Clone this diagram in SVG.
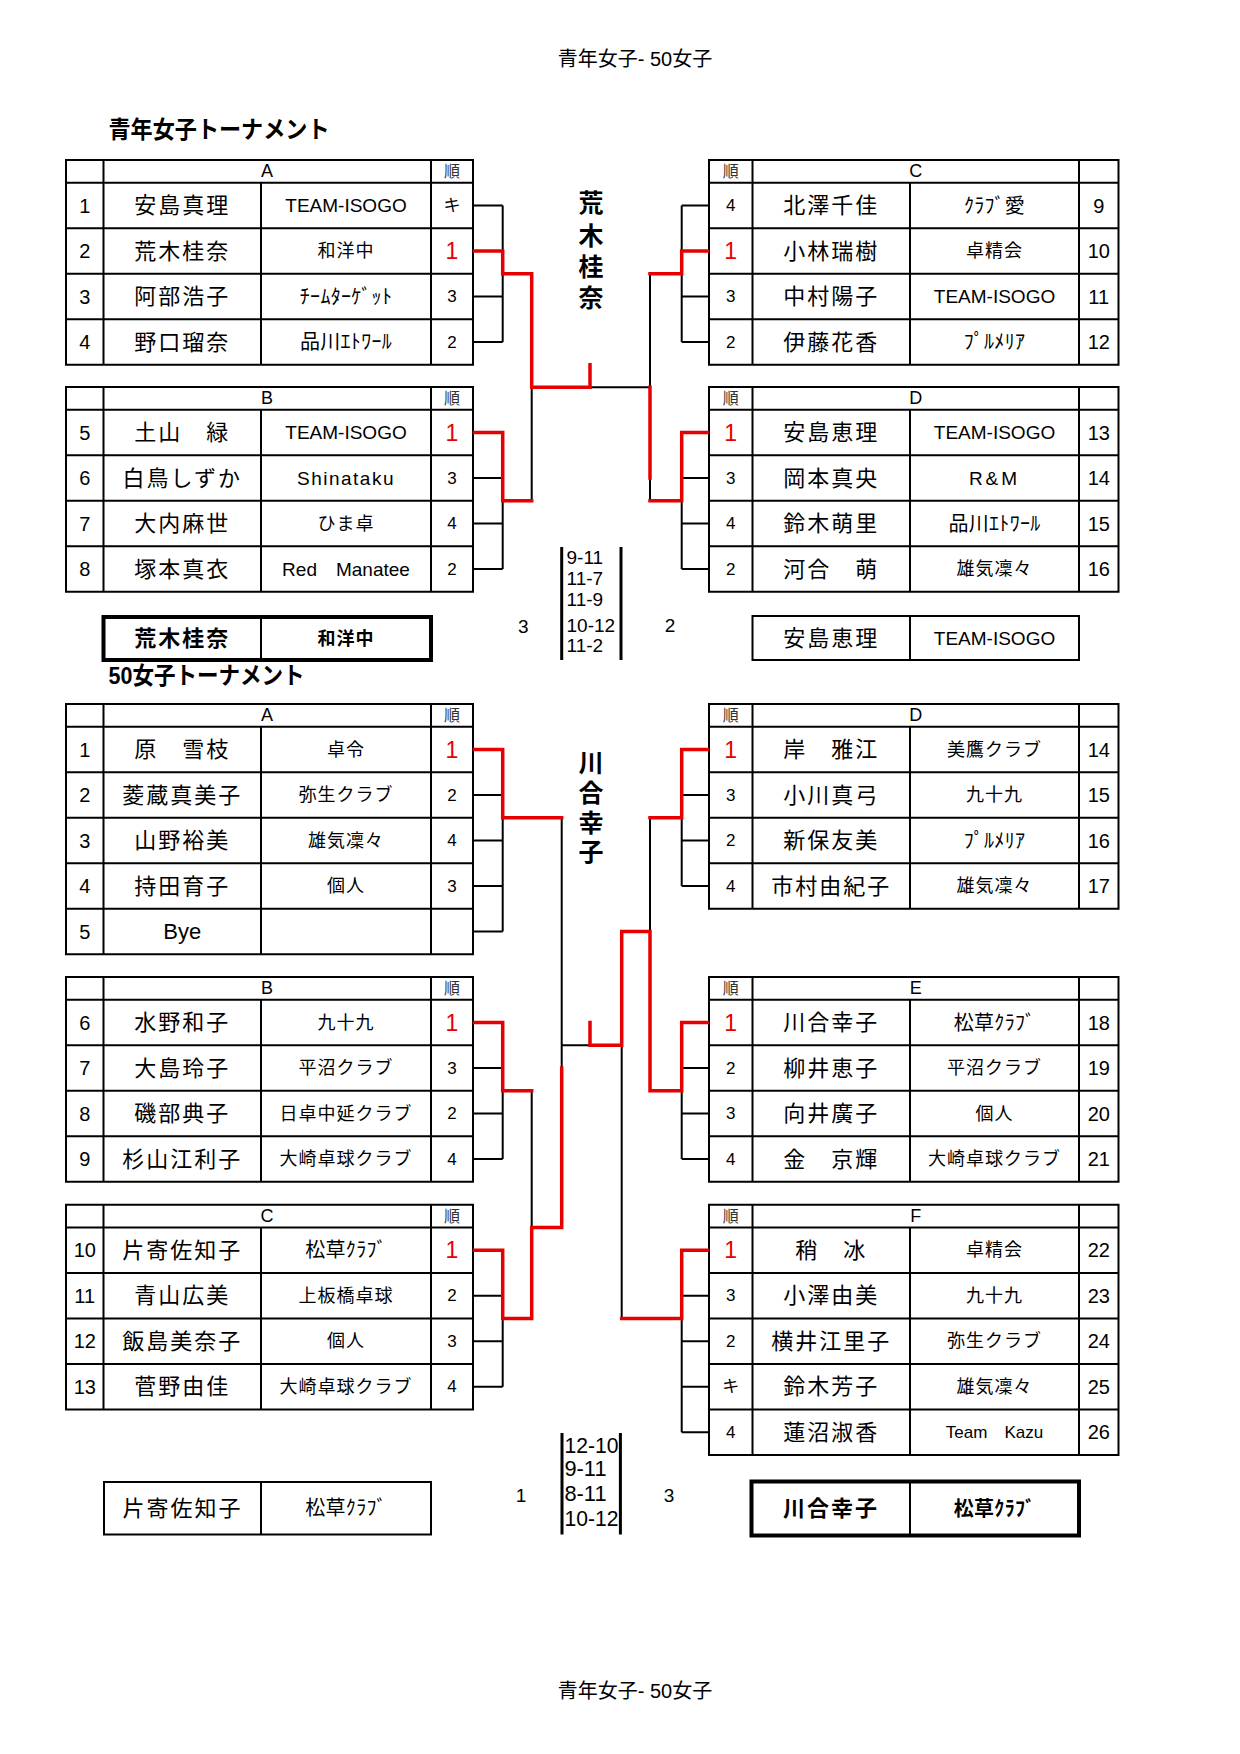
<svg xmlns="http://www.w3.org/2000/svg" width="1240" height="1754" viewBox="0 0 1240 1754">
<style>
text{font-family:"Liberation Sans","Noto Sans CJK JP",sans-serif;dominant-baseline:central;fill:#000}
.g{fill:none;stroke:#000;stroke-width:2}
.gb{fill:none;stroke:#000;stroke-width:4}
.k{fill:none;stroke:#000;stroke-width:2}
.r{fill:none;stroke:#e60000;stroke-width:3.5;stroke-linejoin:miter;stroke-linecap:square}
.sl{fill:none;stroke:#000;stroke-width:3}
.no{font-size:20px;text-anchor:middle}
.nm{font-size:22px;letter-spacing:2px;text-anchor:middle}
.cl{font-size:18px;letter-spacing:1px;text-anchor:middle}
.hk{font-size:20px;letter-spacing:0.3px;text-anchor:middle}
.la{font-size:19px;text-anchor:middle}
.rk{font-size:17px;text-anchor:middle}
.w{font-size:23px;fill:#e60000;text-anchor:middle}
.hd{font-size:18px;text-anchor:middle}
.jn{font-size:16px;fill:#333;text-anchor:middle}
.ti{font-size:24px;font-weight:bold}
.vt{font-size:25px;font-weight:bold;text-anchor:middle}
.sc{font-size:19px}
.sb{font-size:22px}
.pg{font-size:20px;text-anchor:middle}
.b{font-weight:bold}
</style>

<g id="page-header"><text class="pg" x="635" y="59">青年女子- 50女子</text></g>
<g id="title-youth"><text class="ti" x="108.5" y="129" textLength="221" lengthAdjust="spacingAndGlyphs">青年女子トーナメント</text></g>
<g id="title-50"><text class="ti" x="108.5" y="675" textLength="196" lengthAdjust="spacingAndGlyphs">50女子トーナメント</text></g>

<!-- ===== Youth A ===== -->
<g id="youth-A">
<rect class="g" x="66" y="160" width="407" height="204.75"/>
<path class="g" d="M66,182.75H473M66,228.25H473M66,273.75H473M66,319.25H473M103.5,160V364.75M431,160V364.75M261,182.75V364.75"/>
<text class="hd" x="267" y="171.4">A</text><text class="jn" x="452" y="171.4">順</text>
<text class="no" x="84.75" y="205.5">1</text><text class="nm" x="182.25" y="205.5">安島真理</text><text class="la" x="346" y="205.5">TEAM-ISOGO</text><text class="rk" x="452" y="205.5">キ</text>
<text class="no" x="84.75" y="251">2</text><text class="nm" x="182.25" y="251">荒木桂奈</text><text class="cl" x="346" y="251">和洋中</text><text class="w" x="452" y="251">1</text>
<text class="no" x="84.75" y="296.5">3</text><text class="nm" x="182.25" y="296.5">阿部浩子</text><text class="hk" x="346" y="296.5">ﾁｰﾑﾀｰｹﾞｯﾄ</text><text class="rk" x="452" y="296.5">3</text>
<text class="no" x="84.75" y="342">4</text><text class="nm" x="182.25" y="342">野口瑠奈</text><text class="hk" x="346" y="342">品川ｴﾄﾜｰﾙ</text><text class="rk" x="452" y="342">2</text>
</g>

<!-- ===== Youth B ===== -->
<g id="youth-B">
<rect class="g" x="66" y="387" width="407" height="204.75"/>
<path class="g" d="M66,409.75H473M66,455.25H473M66,500.75H473M66,546.25H473M103.5,387V591.75M431,387V591.75M261,409.75V591.75"/>
<text class="hd" x="267" y="398.4">B</text><text class="jn" x="452" y="398.4">順</text>
<text class="no" x="84.75" y="432.5">5</text><text class="nm" x="182.25" y="432.5">土山　緑</text><text class="la" x="346" y="432.5">TEAM-ISOGO</text><text class="w" x="452" y="432.5">1</text>
<text class="no" x="84.75" y="478">6</text><text class="nm" x="182.25" y="478">白鳥しずか</text><text class="la" x="346" y="478" letter-spacing="1.5">Shinataku</text><text class="rk" x="452" y="478">3</text>
<text class="no" x="84.75" y="523.5">7</text><text class="nm" x="182.25" y="523.5">大内麻世</text><text class="cl" x="346" y="523.5">ひま卓</text><text class="rk" x="452" y="523.5">4</text>
<text class="no" x="84.75" y="569">8</text><text class="nm" x="182.25" y="569">塚本真衣</text><text class="la" x="346" y="569" font-size="18">Red　Manatee</text><text class="rk" x="452" y="569">2</text>
</g>

<!-- ===== Youth C ===== -->
<g id="youth-C">
<rect class="g" x="709" y="160" width="409.5" height="204.75"/>
<path class="g" d="M709,182.75H1118.5M709,228.25H1118.5M709,273.75H1118.5M709,319.25H1118.5M752.5,160V364.75M1079,160V364.75M910,182.75V364.75"/>
<text class="jn" x="730.75" y="171.4">順</text><text class="hd" x="915.75" y="171.4">C</text>
<text class="rk" x="730.75" y="205.5">4</text><text class="nm" x="831.25" y="205.5">北澤千佳</text><text class="hk" x="994.5" y="205.5">ｸﾗﾌﾞ愛</text><text class="no" x="1098.75" y="205.5">9</text>
<text class="w" x="730.75" y="251">1</text><text class="nm" x="831.25" y="251">小林瑞樹</text><text class="cl" x="994.5" y="251">卓精会</text><text class="no" x="1098.75" y="251">10</text>
<text class="rk" x="730.75" y="296.5">3</text><text class="nm" x="831.25" y="296.5">中村陽子</text><text class="la" x="994.5" y="296.5">TEAM-ISOGO</text><text class="no" x="1098.75" y="296.5">11</text>
<text class="rk" x="730.75" y="342">2</text><text class="nm" x="831.25" y="342">伊藤花香</text><text class="hk" x="994.5" y="342">ﾌﾟﾙﾒﾘｱ</text><text class="no" x="1098.75" y="342">12</text>
</g>

<!-- ===== Youth D ===== -->
<g id="youth-D">
<rect class="g" x="709" y="387" width="409.5" height="204.75"/>
<path class="g" d="M709,409.75H1118.5M709,455.25H1118.5M709,500.75H1118.5M709,546.25H1118.5M752.5,387V591.75M1079,387V591.75M910,409.75V591.75"/>
<text class="jn" x="730.75" y="398.4">順</text><text class="hd" x="915.75" y="398.4">D</text>
<text class="w" x="730.75" y="432.5">1</text><text class="nm" x="831.25" y="432.5">安島恵理</text><text class="la" x="994.5" y="432.5">TEAM-ISOGO</text><text class="no" x="1098.75" y="432.5">13</text>
<text class="rk" x="730.75" y="478">3</text><text class="nm" x="831.25" y="478">岡本真央</text><text class="la" x="994.5" y="478" letter-spacing="3">R&amp;M</text><text class="no" x="1098.75" y="478">14</text>
<text class="rk" x="730.75" y="523.5">4</text><text class="nm" x="831.25" y="523.5">鈴木萌里</text><text class="hk" x="994.5" y="523.5">品川ｴﾄﾜｰﾙ</text><text class="no" x="1098.75" y="523.5">15</text>
<text class="rk" x="730.75" y="569">2</text><text class="nm" x="831.25" y="569">河合　萌</text><text class="cl" x="994.5" y="569">雄気凜々</text><text class="no" x="1098.75" y="569">16</text>
</g>

<!-- ===== 50 A ===== -->
<g id="fifty-A">
<rect class="g" x="66" y="704" width="407" height="250.25"/>
<path class="g" d="M66,726.75H473M66,772.25H473M66,817.75H473M66,863.25H473M66,908.75H473M103.5,704V954.25M431,704V954.25M261,726.75V954.25"/>
<text class="hd" x="267" y="715.4">A</text><text class="jn" x="452" y="715.4">順</text>
<text class="no" x="84.75" y="749.5">1</text><text class="nm" x="182.25" y="749.5">原　雪枝</text><text class="cl" x="346" y="749.5">卓令</text><text class="w" x="452" y="749.5">1</text>
<text class="no" x="84.75" y="795">2</text><text class="nm" x="182.25" y="795">菱蔵真美子</text><text class="cl" x="346" y="795">弥生クラブ</text><text class="rk" x="452" y="795">2</text>
<text class="no" x="84.75" y="840.5">3</text><text class="nm" x="182.25" y="840.5">山野裕美</text><text class="cl" x="346" y="840.5">雄気凜々</text><text class="rk" x="452" y="840.5">4</text>
<text class="no" x="84.75" y="886">4</text><text class="nm" x="182.25" y="886">持田育子</text><text class="cl" x="346" y="886">個人</text><text class="rk" x="452" y="886">3</text>
<text class="no" x="84.75" y="931.5">5</text><text x="182.25" y="931.5" font-size="22" text-anchor="middle">Bye</text>
</g>

<!-- ===== 50 B ===== -->
<g id="fifty-B">
<rect class="g" x="66" y="977" width="407" height="204.75"/>
<path class="g" d="M66,999.75H473M66,1045.25H473M66,1090.75H473M66,1136.25H473M103.5,977V1181.75M431,977V1181.75M261,999.75V1181.75"/>
<text class="hd" x="267" y="988.4">B</text><text class="jn" x="452" y="988.4">順</text>
<text class="no" x="84.75" y="1022.5">6</text><text class="nm" x="182.25" y="1022.5">水野和子</text><text class="cl" x="346" y="1022.5">九十九</text><text class="w" x="452" y="1022.5">1</text>
<text class="no" x="84.75" y="1068">7</text><text class="nm" x="182.25" y="1068">大島玲子</text><text class="cl" x="346" y="1068">平沼クラブ</text><text class="rk" x="452" y="1068">3</text>
<text class="no" x="84.75" y="1113.5">8</text><text class="nm" x="182.25" y="1113.5">磯部典子</text><text class="cl" x="346" y="1113.5">日卓中延クラブ</text><text class="rk" x="452" y="1113.5">2</text>
<text class="no" x="84.75" y="1159">9</text><text class="nm" x="182.25" y="1159">杉山江利子</text><text class="cl" x="346" y="1159">大崎卓球クラブ</text><text class="rk" x="452" y="1159">4</text>
</g>

<!-- ===== 50 C ===== -->
<g id="fifty-C">
<rect class="g" x="66" y="1204.75" width="407" height="204.75"/>
<path class="g" d="M66,1227.5H473M66,1273H473M66,1318.5H473M66,1364H473M103.5,1204.75V1409.5M431,1204.75V1409.5M261,1227.5V1409.5"/>
<text class="hd" x="267" y="1216.1">C</text><text class="jn" x="452" y="1216.1">順</text>
<text class="no" x="84.75" y="1250.25">10</text><text class="nm" x="182.25" y="1250.25">片寄佐知子</text><text class="hk" x="346" y="1250.25">松草ｸﾗﾌﾞ</text><text class="w" x="452" y="1250.25">1</text>
<text class="no" x="84.75" y="1295.75">11</text><text class="nm" x="182.25" y="1295.75">青山広美</text><text class="cl" x="346" y="1295.75">上板橋卓球</text><text class="rk" x="452" y="1295.75">2</text>
<text class="no" x="84.75" y="1341.25">12</text><text class="nm" x="182.25" y="1341.25">飯島美奈子</text><text class="cl" x="346" y="1341.25">個人</text><text class="rk" x="452" y="1341.25">3</text>
<text class="no" x="84.75" y="1386.75">13</text><text class="nm" x="182.25" y="1386.75">菅野由佳</text><text class="cl" x="346" y="1386.75">大崎卓球クラブ</text><text class="rk" x="452" y="1386.75">4</text>
</g>

<!-- ===== 50 D ===== -->
<g id="fifty-D">
<rect class="g" x="709" y="704" width="409.5" height="204.75"/>
<path class="g" d="M709,726.75H1118.5M709,772.25H1118.5M709,817.75H1118.5M709,863.25H1118.5M752.5,704V908.75M1079,704V908.75M910,726.75V908.75"/>
<text class="jn" x="730.75" y="715.4">順</text><text class="hd" x="915.75" y="715.4">D</text>
<text class="w" x="730.75" y="749.5">1</text><text class="nm" x="831.25" y="749.5">岸　雅江</text><text class="cl" x="994.5" y="749.5">美鷹クラブ</text><text class="no" x="1098.75" y="749.5">14</text>
<text class="rk" x="730.75" y="795">3</text><text class="nm" x="831.25" y="795">小川真弓</text><text class="cl" x="994.5" y="795">九十九</text><text class="no" x="1098.75" y="795">15</text>
<text class="rk" x="730.75" y="840.5">2</text><text class="nm" x="831.25" y="840.5">新保友美</text><text class="hk" x="994.5" y="840.5">ﾌﾟﾙﾒﾘｱ</text><text class="no" x="1098.75" y="840.5">16</text>
<text class="rk" x="730.75" y="886">4</text><text class="nm" x="831.25" y="886">市村由紀子</text><text class="cl" x="994.5" y="886">雄気凜々</text><text class="no" x="1098.75" y="886">17</text>
</g>

<!-- ===== 50 E ===== -->
<g id="fifty-E">
<rect class="g" x="709" y="977" width="409.5" height="204.75"/>
<path class="g" d="M709,999.75H1118.5M709,1045.25H1118.5M709,1090.75H1118.5M709,1136.25H1118.5M752.5,977V1181.75M1079,977V1181.75M910,999.75V1181.75"/>
<text class="jn" x="730.75" y="988.4">順</text><text class="hd" x="915.75" y="988.4">E</text>
<text class="w" x="730.75" y="1022.5">1</text><text class="nm" x="831.25" y="1022.5">川合幸子</text><text class="hk" x="994.5" y="1022.5">松草ｸﾗﾌﾞ</text><text class="no" x="1098.75" y="1022.5">18</text>
<text class="rk" x="730.75" y="1068">2</text><text class="nm" x="831.25" y="1068">柳井恵子</text><text class="cl" x="994.5" y="1068">平沼クラブ</text><text class="no" x="1098.75" y="1068">19</text>
<text class="rk" x="730.75" y="1113.5">3</text><text class="nm" x="831.25" y="1113.5">向井廣子</text><text class="cl" x="994.5" y="1113.5">個人</text><text class="no" x="1098.75" y="1113.5">20</text>
<text class="rk" x="730.75" y="1159">4</text><text class="nm" x="831.25" y="1159">金　京輝</text><text class="cl" x="994.5" y="1159">大崎卓球クラブ</text><text class="no" x="1098.75" y="1159">21</text>
</g>

<!-- ===== 50 F ===== -->
<g id="fifty-F">
<rect class="g" x="709" y="1204.75" width="409.5" height="250.25"/>
<path class="g" d="M709,1227.5H1118.5M709,1273H1118.5M709,1318.5H1118.5M709,1364H1118.5M709,1409.5H1118.5M752.5,1204.75V1455M1079,1204.75V1455M910,1227.5V1455"/>
<text class="jn" x="730.75" y="1216.1">順</text><text class="hd" x="915.75" y="1216.1">F</text>
<text class="w" x="730.75" y="1250.25">1</text><text class="nm" x="831.25" y="1250.25">稍　冰</text><text class="cl" x="994.5" y="1250.25">卓精会</text><text class="no" x="1098.75" y="1250.25">22</text>
<text class="rk" x="730.75" y="1295.75">3</text><text class="nm" x="831.25" y="1295.75">小澤由美</text><text class="cl" x="994.5" y="1295.75">九十九</text><text class="no" x="1098.75" y="1295.75">23</text>
<text class="rk" x="730.75" y="1341.25">2</text><text class="nm" x="831.25" y="1341.25">横井江里子</text><text class="cl" x="994.5" y="1341.25">弥生クラブ</text><text class="no" x="1098.75" y="1341.25">24</text>
<text class="rk" x="730.75" y="1386.75">キ</text><text class="nm" x="831.25" y="1386.75">鈴木芳子</text><text class="cl" x="994.5" y="1386.75">雄気凜々</text><text class="no" x="1098.75" y="1386.75">25</text>
<text class="rk" x="730.75" y="1432.25">4</text><text class="nm" x="831.25" y="1432.25">蓮沼淑香</text><text x="994.5" y="1432.25" font-size="17" text-anchor="middle">Team　Kazu</text><text class="no" x="1098.75" y="1432.25">26</text>
</g>

<!-- ===== connectors ===== -->
<g id="connectors">
<path class="k" d="M473,205.5H502.7M473,251H502.7M473,296.5H502.7M473,342H502.7M502.7,205.5V342M473,432.5H502.7M473,478H502.7M473,523.5H502.7M473,569H502.7M502.7,432.5V569M531.7,387.25V500.75M590,387.25H650M650,273.75V387.25M650,478V500.75M709,205.5H681.7M709,251H681.7M709,296.5H681.7M709,342H681.7M681.7,205.5V342M709,432.5H681.7M709,478H681.7M709,523.5H681.7M709,569H681.7M681.7,432.5V569"/>
<path class="k" d="M473,749.5H502.7M473,795H502.7M473,840.5H502.7M473,886H502.7M473,931.5H502.7M502.7,749.5V931.5M473,1022.5H502.7M473,1068H502.7M473,1113.5H502.7M473,1159H502.7M502.7,1022.5V1159M473,1250.25H502.7M473,1295.75H502.7M473,1341.25H502.7M473,1386.75H502.7M502.7,1250.25V1386.75M531.7,1090.75V1227.5M561.7,817.75V1068M561.7,1045.25H590M709,749.5H681.7M709,795H681.7M709,840.5H681.7M709,886H681.7M681.7,749.5V886M709,1022.5H681.7M709,1068H681.7M709,1113.5H681.7M709,1159H681.7M681.7,1022.5V1159M709,1250.25H681.7M709,1295.75H681.7M709,1341.25H681.7M709,1386.75H681.7M709,1432.25H681.7M681.7,1250.25V1432.25M650,817.75V931.5M621.7,1045.25V1318.5"/>
<path class="r" d="M474.5,251H502.7V273.75H531.7V387.25H590V364.75"/>
<path class="r" d="M474.5,432.5H502.7V500.75H531.7"/>
<path class="r" d="M707.5,251H681.7V273.75H650"/>
<path class="r" d="M650,387.25V478"/>
<path class="r" d="M707.5,432.5H681.7V500.75H650"/>
<path class="r" d="M474.5,749.5H502.7V817.75H561.7"/>
<path class="r" d="M474.5,1022.5H502.7V1090.75H531.7"/>
<path class="r" d="M474.5,1250.25H502.7V1318.5H531.7V1227.5H561.7V1068"/>
<path class="r" d="M590,1022.5V1045.25H621.7V931.5H650V1090.75H681.7V1022.5H707.5"/>
<path class="r" d="M707.5,749.5H681.7V817.75H650"/>
<path class="r" d="M707.5,1250.25H681.7V1318.5H621.7"/>
</g>

<!-- ===== vertical champion names ===== -->
<g id="champion-youth">
<text class="vt" x="591" y="203">荒</text><text class="vt" x="591" y="235.5">木</text><text class="vt" x="591" y="266.5">桂</text><text class="vt" x="591" y="298">奈</text>
</g>
<g id="champion-50">
<text class="vt" x="591" y="762.5" font-size="24">川</text><text class="vt" x="591" y="792.5" font-size="24">合</text><text class="vt" x="591" y="822.5" font-size="24">幸</text><text class="vt" x="591" y="851.5" font-size="24">子</text>
</g>

<!-- ===== youth final ===== -->
<g id="youth-winner">
<rect class="gb" x="103.5" y="617" width="327.5" height="43"/>
<path class="g" d="M261,617V660"/>
<text class="nm b" x="182.25" y="638.5">荒木桂奈</text><text class="cl b" x="346" y="638.5">和洋中</text>
</g>
<g id="youth-runnerup">
<rect class="g" x="752.5" y="616" width="326.5" height="44"/>
<path class="g" d="M910,616V660"/>
<text class="nm" x="831.25" y="638">安島恵理</text><text class="la" x="994.5" y="638">TEAM-ISOGO</text>
</g>
<g id="youth-score">
<path class="sl" d="M561.7,547V660M621,547V660"/>
<text class="sc" x="566.5" y="557.5">9-11</text>
<text class="sc" x="566.5" y="578.3">11-7</text>
<text class="sc" x="566.5" y="599.2">11-9</text>
<text class="sc" x="566.5" y="625.8">10-12</text>
<text class="sc" x="566.5" y="645">11-2</text>
<text class="sc" x="523.3" y="626.5" text-anchor="middle">3</text>
<text class="sc" x="670" y="625.5" text-anchor="middle">2</text>
</g>

<!-- ===== 50 final ===== -->
<g id="fifty-runnerup">
<rect class="g" x="104" y="1482" width="327" height="52.5"/>
<path class="g" d="M261,1482V1534.5"/>
<text class="nm" x="182.5" y="1508.3">片寄佐知子</text><text class="hk" x="346" y="1508.3">松草ｸﾗﾌﾞ</text>
</g>
<g id="fifty-winner">
<rect class="gb" x="751.5" y="1481.5" width="327.5" height="54"/>
<path class="g" d="M910,1481.5V1535.5"/>
<text class="nm b" x="831" y="1508.5">川合幸子</text><text class="hk b" x="994.5" y="1508.5">松草ｸﾗﾌﾞ</text>
</g>
<g id="fifty-score">
<path class="sl" d="M562,1433V1534.5M620.4,1433V1534.5"/>
<text class="sb" x="564.5" y="1445" textLength="54" lengthAdjust="spacingAndGlyphs">12-10</text>
<text class="sb" x="564.5" y="1468.3" textLength="42" lengthAdjust="spacingAndGlyphs">9-11</text>
<text class="sb" x="564.5" y="1493.3" textLength="42" lengthAdjust="spacingAndGlyphs">8-11</text>
<text class="sb" x="564.5" y="1518.3" textLength="54" lengthAdjust="spacingAndGlyphs">10-12</text>
<text class="sc" x="521" y="1495" text-anchor="middle">1</text>
<text class="sc" x="669" y="1495" text-anchor="middle">3</text>
</g>

<g id="page-footer"><text class="pg" x="635" y="1691">青年女子- 50女子</text></g>
</svg>
